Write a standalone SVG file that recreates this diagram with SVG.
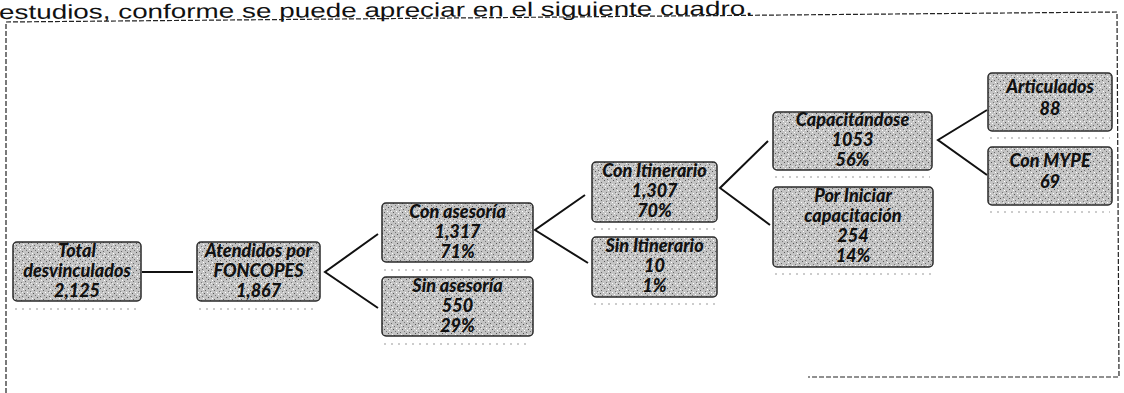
<svg xmlns="http://www.w3.org/2000/svg" width="1124" height="393" viewBox="0 0 1124 393">
<defs>
<pattern id="speck" width="9" height="9" patternUnits="userSpaceOnUse">
<rect width="9" height="9" fill="#c4c4c4"/>
<rect x="1" y="0" width="1" height="1" fill="#555"/>
<rect x="5" y="1" width="1" height="1" fill="#fff"/>
<rect x="7" y="2" width="1" height="1" fill="#666"/>
<rect x="3" y="3" width="1" height="1" fill="#777"/>
<rect x="0" y="4" width="1" height="1" fill="#fff"/>
<rect x="6" y="5" width="1" height="1" fill="#555"/>
<rect x="2" y="6" width="1" height="1" fill="#fff"/>
<rect x="8" y="7" width="1" height="1" fill="#777"/>
<rect x="4" y="8" width="1" height="1" fill="#666"/>
<rect x="4" y="4" width="1" height="1" fill="#eee"/>
</pattern>
<style>
.box{fill:url(#speck);stroke:#2a2a2a;stroke-width:1.5}
.t{font-family:Lato,"Liberation Sans",sans-serif;font-weight:900;font-style:italic;font-size:18px;fill:#111;text-anchor:middle}
.sh{stroke:#999;stroke-width:1;stroke-dasharray:2 5;fill:none}
.c{stroke:#111;stroke-width:2;fill:none}
.frame{stroke:#222;stroke-width:1.2;stroke-dasharray:5 2;fill:none}
.top{font-family:"Liberation Sans",Arial,sans-serif;font-size:20px;fill:#111}
</style>
</defs>
<rect width="1124" height="393" fill="#fff"/>
<text class="top" x="-1" y="19" textLength="754" lengthAdjust="spacingAndGlyphs" transform="rotate(-0.3 0 19)">estudios, conforme se puede apreciar en el siguiente cuadro.</text>
<g id="frame">
<polyline class="frame" points="6,393 6,22 1117,12 1119,377 808,377"/>
</g>
<g id="connectors">
<line class="c" x1="142" y1="272" x2="193" y2="272"/>
<polyline class="c" points="378,234 325,272 378,308"/>
<polyline class="c" points="585,195 535,230 588,263"/>
<polyline class="c" points="768,141 720,188 770,225"/>
<polyline class="c" points="987,110 938,140 987,175"/>
</g>
<g id="n1">
<rect class="box" x="13" y="242" width="128" height="59" rx="4"/>
<line class="sh" x1="15" y1="309" x2="139" y2="309"/>
<text class="t" x="77" y="257">Total</text>
<text class="t" x="77" y="277">desvinculados</text>
<text class="t" x="77" y="297">2,125</text>
</g>
<g id="n2">
<rect class="box" x="197" y="242" width="123" height="59" rx="4"/>
<line class="sh" x1="199" y1="309" x2="318" y2="309"/>
<text class="t" x="258.5" y="257">Atendidos por</text>
<text class="t" x="258.5" y="277">FONCOPES</text>
<text class="t" x="258.5" y="297">1,867</text>
</g>
<g id="n3">
<rect class="box" x="382" y="203" width="151" height="59" rx="4"/>
<line class="sh" x1="384" y1="270" x2="531" y2="270"/>
<text class="t" x="457.5" y="218">Con asesoría</text>
<text class="t" x="457.5" y="238">1,317</text>
<text class="t" x="457.5" y="258">71%</text>
</g>
<g id="n4">
<rect class="box" x="382" y="277" width="151" height="59" rx="4"/>
<line class="sh" x1="384" y1="344" x2="531" y2="344"/>
<text class="t" x="457.5" y="292">Sin asesoría</text>
<text class="t" x="457.5" y="312">550</text>
<text class="t" x="457.5" y="332">29%</text>
</g>
<g id="n5">
<rect class="box" x="592" y="162" width="125" height="60" rx="4"/>
<line class="sh" x1="594" y1="229" x2="715" y2="229"/>
<text class="t" x="654.5" y="177">Con Itinerario</text>
<text class="t" x="654.5" y="197">1,307</text>
<text class="t" x="654.5" y="217">70%</text>
</g>
<g id="n6">
<rect class="box" x="592" y="237" width="125" height="60" rx="4"/>
<line class="sh" x1="594" y1="304" x2="715" y2="304"/>
<text class="t" x="654.5" y="252">Sin Itinerario</text>
<text class="t" x="654.5" y="272">10</text>
<text class="t" x="654.5" y="292">1%</text>
</g>
<g id="n7">
<rect class="box" x="773" y="112" width="159" height="58" rx="4"/>
<line class="sh" x1="775" y1="177" x2="930" y2="177"/>
<text class="t" x="852.5" y="126">Capacitándose</text>
<text class="t" x="852.5" y="146">1053</text>
<text class="t" x="852.5" y="166">56%</text>
</g>
<g id="n8">
<rect class="box" x="773" y="187" width="160" height="80" rx="4"/>
<line class="sh" x1="775" y1="274" x2="931" y2="274"/>
<text class="t" x="853" y="202">Por Iniciar</text>
<text class="t" x="853" y="222">capacitación</text>
<text class="t" x="853" y="242">254</text>
<text class="t" x="853" y="262">14%</text>
</g>
<g id="n9">
<rect class="box" x="988" y="73" width="124" height="58" rx="4"/>
<line class="sh" x1="990" y1="138" x2="1110" y2="138"/>
<text class="t" x="1050" y="93">Articulados</text>
<text class="t" x="1050" y="115">88</text>
</g>
<g id="n10">
<rect class="box" x="988" y="147" width="124" height="58" rx="4"/>
<line class="sh" x1="990" y1="212" x2="1110" y2="212"/>
<text class="t" x="1050" y="167">Con MYPE</text>
<text class="t" x="1050" y="188">69</text>
</g>
</svg>
